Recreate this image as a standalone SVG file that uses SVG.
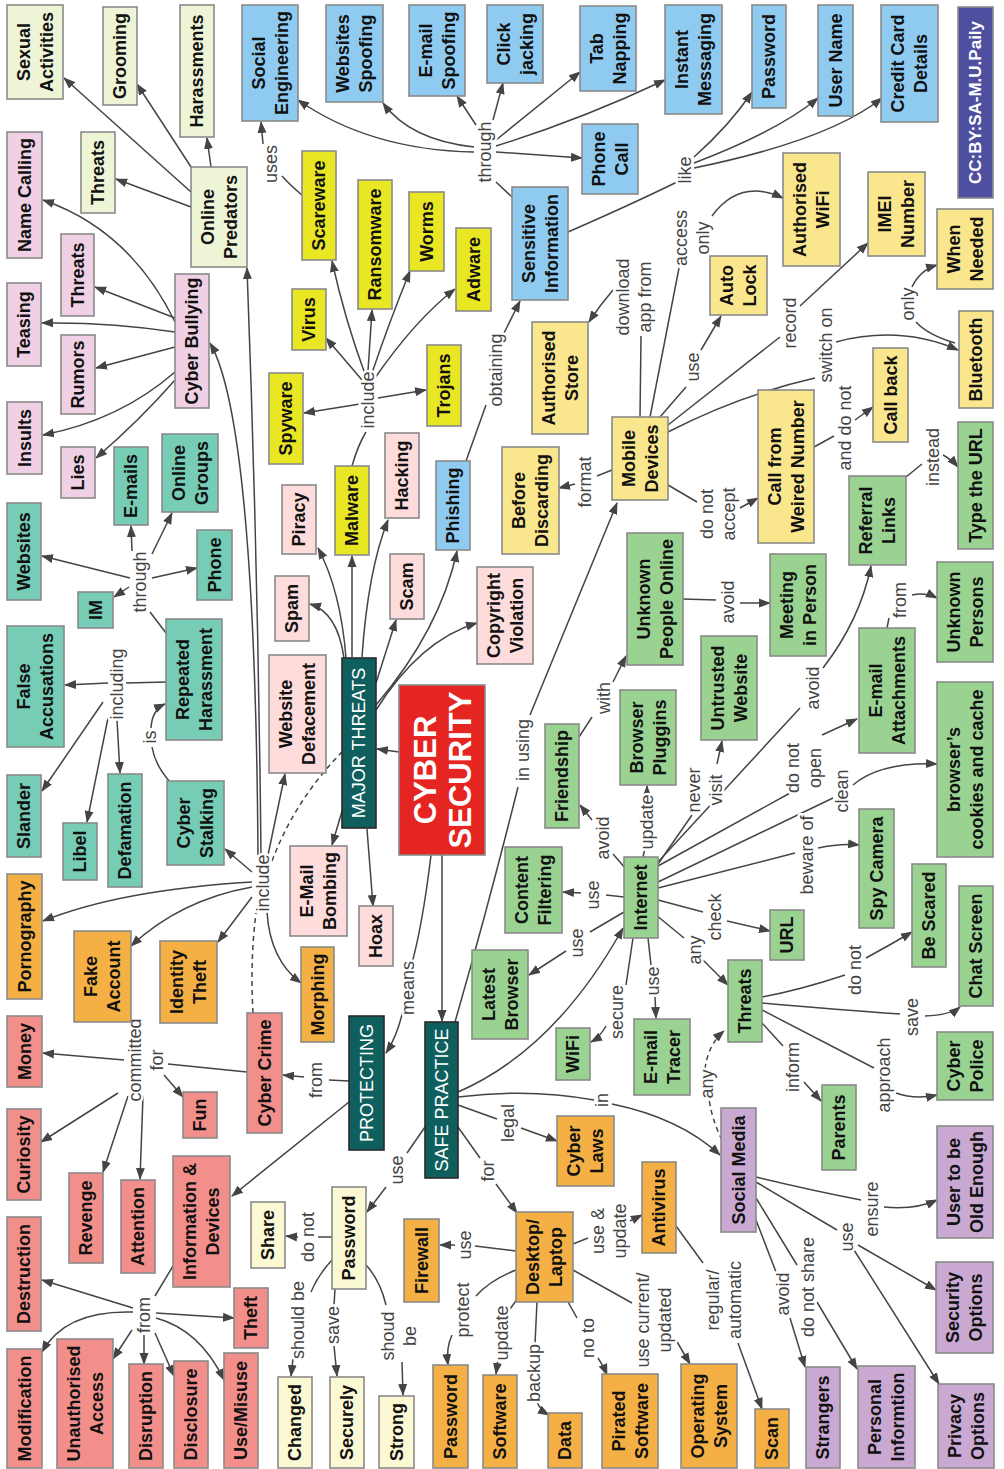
<svg xmlns="http://www.w3.org/2000/svg" width="1004" height="1469" viewBox="0 0 1004 1469">
<defs>
<marker id="ah" viewBox="0 0 12 10" refX="11" refY="5" markerWidth="12" markerHeight="10" markerUnits="userSpaceOnUse" orient="auto"><path d="M0,0.5 L12,5 L0,9.5 z" fill="#444"/></marker>
<style>
rect{stroke:#8a8a8a;stroke-width:1.6}
.og{fill:#EEF5D6}.pk{fill:#F0D0E4}.bl{fill:#8FCBF0}.yl{fill:#E9E623}.lp{fill:#FDDCDB}.tl{fill:#76CCB5}.or{fill:#F4B044}.sa{fill:#F38F8B}.ly{fill:#FBF9D4}.my{fill:#FAE68D}.gr{fill:#99D291}.pu{fill:#C9A9D2}.dk{fill:#0F5F5F;stroke:#2a2a2a}.rd{fill:#E52521}.cc{fill:#4E4F9F}
text{font-family:"Liberation Sans",Arial,sans-serif;text-anchor:middle;dominant-baseline:central}
.t{font-weight:bold;font-size:18px;fill:#111}
.w{font-weight:normal;font-size:18px;fill:#fff}
.l{font-size:18px;fill:#444;stroke:#fff;stroke-width:5px;stroke-linejoin:round;paint-order:stroke}
.c{fill:none;stroke:#444;stroke-width:1.5}
.a{marker-end:url(#ah)}
.d{stroke-dasharray:5,4}
</style>
</defs>
<rect width="1004" height="1469" fill="#fff" style="stroke:none"/>
<g id="connectors">
<path class="c a" d="M399,752 L377,749"/>
<path class="c" d="M431,855 Q422,930 410,970"/>
<path class="c a" d="M404,1006 Q398,1035 386,1053"/>
<path class="c a" d="M442,855 L442,1021"/>
<path class="c a" d="M346,658 C343,620 335,580 318,548"/>
<path class="c a" d="M344,658 C340,630 330,610 310,604"/>
<path class="c a" d="M352,657 L352,556"/>
<path class="c a" d="M362,657 Q368,570 388,520"/>
<path class="c a" d="M376,683 L396,620"/>
<path class="c a" d="M376,705 Q440,630 457,551"/>
<path class="c a" d="M376,710 Q420,640 477,623"/>
<path class="c a" d="M343,808 L332,845"/>
<path class="c a" d="M367,829 L373,906"/>
<path class="c" d="M352,466 Q358,445 366,432"/>
<path class="c a" d="M360,404 L304,413"/>
<path class="c a" d="M362,380 Q345,360 326,338"/>
<path class="c a" d="M365,374 Q345,320 332,261"/>
<path class="c a" d="M368,371 L372,310"/>
<path class="c a" d="M372,373 Q390,320 410,271"/>
<path class="c a" d="M375,378 Q415,320 455,289"/>
<path class="c a" d="M378,398 L426,390"/>
<path class="c" d="M302,195 Q290,185 282,176"/>
<path class="c a" d="M263,144 L261,122"/>
<path class="c" d="M466,461 L486,405"/>
<path class="c a" d="M503,335 L520,301"/>
<path class="c" d="M512,197 L496,182"/>
<path class="c a" d="M474,152 Q370,150 298,100"/>
<path class="c a" d="M474,147 Q410,140 383,103"/>
<path class="c a" d="M476,125 L457,96"/>
<path class="c a" d="M493,120 L503,83"/>
<path class="c a" d="M496,140 L580,72"/>
<path class="c a" d="M496,146 Q580,120 665,80"/>
<path class="c a" d="M496,152 L582,158"/>
<path class="c" d="M568,232 Q630,205 677,182"/>
<path class="c a" d="M694,157 Q730,125 752,92"/>
<path class="c a" d="M694,163 Q780,130 818,98"/>
<path class="c a" d="M694,168 Q830,140 882,98"/>
<path class="c" d="M640,417 L641,336"/>
<path class="c a" d="M613,290 Q600,305 589,322"/>
<path class="c" d="M650,417 Q665,340 679,268"/>
<path class="c a" d="M712,216 Q740,178 783,198"/>
<path class="c" d="M660,417 L686,387"/>
<path class="c a" d="M701,350 L721,316"/>
<path class="c" d="M668,425 L780,337"/>
<path class="c a" d="M800,306 L868,243"/>
<path class="c" d="M668,432 Q740,395 815,378"/>
<path class="c a" d="M836,342 Q900,325 958,350"/>
<path class="c" d="M955,343 Q928,335 916,322"/>
<path class="c a" d="M912,287 Q920,270 937,265"/>
<path class="c" d="M612,470 L597,476"/>
<path class="c a" d="M575,484 L559,488"/>
<path class="c" d="M668,485 Q685,495 697,502"/>
<path class="c a" d="M740,508 L758,498"/>
<path class="c" d="M814,447 L834,436"/>
<path class="c a" d="M855,420 L873,407"/>
<path class="c" d="M906,477 L922,464"/>
<path class="c a" d="M943,455 Q952,460 958,467"/>
<path class="c" d="M683,599 L716,600"/>
<path class="c a" d="M740,603 L770,603"/>
<path class="c" d="M887,628 L889,618"/>
<path class="c a" d="M912,595 Q925,592 937,598"/>
<path class="c" d="M658,862 L800,708"/>
<path class="c a" d="M823,668 Q860,620 871,566"/>
<path class="c" d="M658,866 L790,793"/>
<path class="c a" d="M822,735 L857,719"/>
<path class="c" d="M658,864 L692,815"/>
<path class="c a" d="M717,764 L722,741"/>
<path class="c" d="M658,882 L833,798"/>
<path class="c a" d="M853,785 Q880,762 937,764"/>
<path class="c" d="M658,888 L795,853"/>
<path class="c a" d="M818,848 Q840,843 859,845"/>
<path class="c" d="M658,900 L703,912"/>
<path class="c a" d="M727,921 L770,931"/>
<path class="c" d="M656,915 L684,938"/>
<path class="c a" d="M703,960 L728,985"/>
<path class="c" d="M643,857 L645,848"/>
<path class="c a" d="M647,797 L647,786"/>
<path class="c" d="M626,869 L613,854"/>
<path class="c a" d="M592,820 L580,805"/>
<path class="c" d="M579,737 L592,717"/>
<path class="c a" d="M613,682 L626,656"/>
<path class="c" d="M624,897 L606,895"/>
<path class="c a" d="M581,893 L563,892"/>
<path class="c" d="M624,912 L590,932"/>
<path class="c a" d="M566,951 L529,975"/>
<path class="c" d="M633,938 L626,985"/>
<path class="c a" d="M606,1026 Q600,1037 591,1042"/>
<path class="c" d="M648,938 L651,965"/>
<path class="c a" d="M655,997 L656,1018"/>
<path class="c" d="M455,1022 Q490,900 518,787"/>
<path class="c a" d="M530,715 L617,503"/>
<path class="c a" d="M458,1092 Q555,1050 623,928"/>
<path class="c" d="M458,1097 Q530,1088 594,1100"/>
<path class="c a" d="M612,1104 Q680,1118 720,1155"/>
<path class="c" d="M458,1105 L497,1119"/>
<path class="c a" d="M521,1128 L557,1141"/>
<path class="c" d="M458,1127 L480,1158"/>
<path class="c a" d="M496,1184 L517,1213"/>
<path class="c" d="M425,1127 L407,1153"/>
<path class="c a" d="M386,1187 L367,1212"/>
<path class="c" d="M762,997 Q800,990 845,975"/>
<path class="c a" d="M866,958 Q890,945 912,932"/>
<path class="c" d="M762,1003 Q840,1010 900,1014"/>
<path class="c a" d="M925,1016 Q950,1015 960,1007"/>
<path class="c" d="M762,1010 Q830,1045 874,1068"/>
<path class="c a" d="M896,1093 Q915,1100 937,1095"/>
<path class="c" d="M762,1023 L783,1046"/>
<path class="c a" d="M804,1082 L821,1101"/>
<path class="c d" d="M722,1140 Q712,1120 709,1099"/>
<path class="c d a" d="M705,1069 Q708,1045 724,1031"/>
<path class="c" d="M756,1177 Q810,1190 861,1200"/>
<path class="c a" d="M884,1207 Q915,1210 937,1200"/>
<path class="c" d="M756,1182 L837,1230"/>
<path class="c a" d="M858,1245 L936,1290"/>
<path class="c a" d="M854,1250 L939,1384"/>
<path class="c" d="M756,1198 L797,1265"/>
<path class="c a" d="M817,1302 L857,1369"/>
<path class="c" d="M756,1220 L776,1272"/>
<path class="c a" d="M790,1318 L805,1367"/>
<path class="c" d="M516,1251 L475,1246"/>
<path class="c a" d="M455,1245 L440,1245"/>
<path class="c" d="M573,1244 L588,1238"/>
<path class="c a" d="M630,1221 L642,1215"/>
<path class="c" d="M516,1270 Q490,1280 476,1296"/>
<path class="c a" d="M452,1335 Q446,1348 448,1365"/>
<path class="c" d="M518,1298 L510,1309"/>
<path class="c a" d="M498,1359 L496,1374"/>
<path class="c" d="M537,1302 L535,1344"/>
<path class="c a" d="M537,1402 Q540,1410 549,1415"/>
<path class="c" d="M568,1302 L577,1318"/>
<path class="c a" d="M598,1358 Q603,1365 607,1375"/>
<path class="c" d="M573,1270 L632,1303"/>
<path class="c a" d="M676,1340 L690,1364"/>
<path class="c" d="M676,1226 L703,1263"/>
<path class="c a" d="M738,1343 L762,1409"/>
<path class="c" d="M332,1237 L318,1237"/>
<path class="c a" d="M298,1237 L286,1236"/>
<path class="c" d="M332,1260 Q318,1275 311,1292"/>
<path class="c a" d="M293,1359 L291,1376"/>
<path class="c" d="M335,1289 L334,1305"/>
<path class="c a" d="M334,1346 L337,1376"/>
<path class="c" d="M366,1265 Q380,1280 386,1305"/>
<path class="c a" d="M402,1362 L403,1395"/>
<path class="c" d="M349,1081 L329,1080"/>
<path class="c a" d="M304,1077 L283,1075"/>
<path class="c a" d="M349,1102 L232,1196"/>
<path class="c" d="M247,1072 L168,1064"/>
<path class="c a" d="M124,1060 L43,1053"/>
<path class="c a" d="M118,1093 L41,1142"/>
<path class="c a" d="M128,1096 L103,1172"/>
<path class="c a" d="M143,1096 L140,1179"/>
<path class="c a" d="M164,1075 L183,1097"/>
<path class="c d" d="M253,1013 Q250,960 256,913"/>
<path class="c d" d="M272,861 Q295,800 342,752"/>
<path class="c a" d="M252,872 L225,849"/>
<path class="c a" d="M252,882 Q120,890 43,921"/>
<path class="c a" d="M252,887 Q180,900 131,946"/>
<path class="c a" d="M252,897 L218,942"/>
<path class="c a" d="M267,912 Q270,960 301,983"/>
<path class="c a" d="M268,855 L285,774"/>
<path class="c a" d="M261,855 Q258,560 247,268"/>
<path class="c a" d="M258,855 Q255,420 210,343"/>
<path class="c" d="M170,782 Q155,765 152,747"/>
<path class="c a" d="M151,728 Q152,710 165,704"/>
<path class="c" d="M166,633 L150,612"/>
<path class="c a" d="M130,578 L42,556"/>
<path class="c a" d="M129,587 L114,597"/>
<path class="c a" d="M132,551 L131,526"/>
<path class="c a" d="M152,554 L172,513"/>
<path class="c a" d="M152,578 L197,568"/>
<path class="c" d="M166,682 L126,683"/>
<path class="c a" d="M108,683 L65,685"/>
<path class="c a" d="M103,702 L42,791"/>
<path class="c a" d="M108,718 L87,822"/>
<path class="c a" d="M117,720 L120,773"/>
<path class="c a" d="M175,322 Q130,230 43,200"/>
<path class="c a" d="M175,318 L95,287"/>
<path class="c a" d="M175,332 Q110,322 42,323"/>
<path class="c a" d="M175,347 L96,368"/>
<path class="c a" d="M175,372 Q120,420 43,435"/>
<path class="c a" d="M175,380 Q140,420 96,458"/>
<path class="c a" d="M191,192 L64,78"/>
<path class="c a" d="M193,170 L137,84"/>
<path class="c a" d="M211,167 L207,138"/>
<path class="c a" d="M191,207 L116,179"/>
<path class="c" d="M173,1266 L155,1296"/>
<path class="c a" d="M133,1308 L42,1280"/>
<path class="c a" d="M133,1312 Q65,1310 42,1352"/>
<path class="c a" d="M132,1330 L113,1359"/>
<path class="c a" d="M144,1335 L144,1364"/>
<path class="c a" d="M155,1333 L174,1376"/>
<path class="c a" d="M156,1318 Q200,1330 224,1380"/>
<path class="c a" d="M156,1313 L234,1318"/>
<text class="l" transform="translate(271,164) rotate(-90)">uses</text>
<text class="l" transform="translate(485,152) rotate(-90)">through</text>
<text class="l" transform="translate(685,170) rotate(-90)">like</text>
<text class="l" transform="translate(692,238) rotate(-90)"><tspan x="0" y="-11">access</tspan><tspan x="0" y="11">only</tspan></text>
<text class="l" transform="translate(634,297) rotate(-90)"><tspan x="0" y="-11">download</tspan><tspan x="0" y="11">app from</tspan></text>
<text class="l" transform="translate(496,370) rotate(-90)">obtaining</text>
<text class="l" transform="translate(368,400) rotate(-90)">include</text>
<text class="l" transform="translate(693,367) rotate(-90)">use</text>
<text class="l" transform="translate(790,323) rotate(-90)">record</text>
<text class="l" transform="translate(826,345) rotate(-90)">switch on</text>
<text class="l" transform="translate(908,304) rotate(-90)">only</text>
<text class="l" transform="translate(585,482) rotate(-90)">format</text>
<text class="l" transform="translate(718,514) rotate(-90)"><tspan x="0" y="-11">do not</tspan><tspan x="0" y="11">accept</tspan></text>
<text class="l" transform="translate(845,428) rotate(-90)">and do not</text>
<text class="l" transform="translate(933,457) rotate(-90)">instead</text>
<text class="l" transform="translate(728,602) rotate(-90)">avoid</text>
<text class="l" transform="translate(900,600) rotate(-90)">from</text>
<text class="l" transform="translate(813,688) rotate(-90)">avoid</text>
<text class="l" transform="translate(604,698) rotate(-90)">with</text>
<text class="l" transform="translate(140,582) rotate(-90)">through</text>
<text class="l" transform="translate(117,684) rotate(-90)">including</text>
<text class="l" transform="translate(150,737) rotate(-90)">is</text>
<text class="l" transform="translate(523,750) rotate(-90)">in using</text>
<text class="l" transform="translate(705,790) rotate(-90)"><tspan x="0" y="-11">never</tspan><tspan x="0" y="11">visit</tspan></text>
<text class="l" transform="translate(804,768) rotate(-90)"><tspan x="0" y="-11">do not</tspan><tspan x="0" y="11">open</tspan></text>
<text class="l" transform="translate(842,791) rotate(-90)">clean</text>
<text class="l" transform="translate(807,855) rotate(-90)">beware of</text>
<text class="l" transform="translate(603,838) rotate(-90)">avoid</text>
<text class="l" transform="translate(647,822) rotate(-90)">update</text>
<text class="l" transform="translate(593,895) rotate(-90)">use</text>
<text class="l" transform="translate(577,943) rotate(-90)">use</text>
<text class="l" transform="translate(715,917) rotate(-90)">check</text>
<text class="l" transform="translate(695,950) rotate(-90)">any</text>
<text class="l" transform="translate(263,883) rotate(-90)">include</text>
<text class="l" transform="translate(408,988) rotate(-90)">means</text>
<text class="l" transform="translate(617,1012) rotate(-90)">secure</text>
<text class="l" transform="translate(653,981) rotate(-90)">use</text>
<text class="l" transform="translate(855,970) rotate(-90)">do not</text>
<text class="l" transform="translate(912,1017) rotate(-90)">save</text>
<text class="l" transform="translate(884,1075) rotate(-90)">approach</text>
<text class="l" transform="translate(793,1067) rotate(-90)">inform</text>
<text class="l" transform="translate(707,1084) rotate(-90)">any</text>
<text class="l" transform="translate(146,1060) rotate(-90)"><tspan x="0" y="-11">committed</tspan><tspan x="0" y="11">for</tspan></text>
<text class="l" transform="translate(316,1080) rotate(-90)">from</text>
<text class="l" transform="translate(602,1100) rotate(-90)">in</text>
<text class="l" transform="translate(508,1123) rotate(-90)">legal</text>
<text class="l" transform="translate(397,1170) rotate(-90)">use</text>
<text class="l" transform="translate(488,1171) rotate(-90)">for</text>
<text class="l" transform="translate(872,1209) rotate(-90)">ensure</text>
<text class="l" transform="translate(847,1237) rotate(-90)">use</text>
<text class="l" transform="translate(609,1231) rotate(-90)"><tspan x="0" y="-11">use &amp;</tspan><tspan x="0" y="11">update</tspan></text>
<text class="l" transform="translate(465,1245) rotate(-90)">use</text>
<text class="l" transform="translate(308,1237) rotate(-90)">do not</text>
<text class="l" transform="translate(724,1300) rotate(-90)"><tspan x="0" y="-11">regular/</tspan><tspan x="0" y="11">automatic</tspan></text>
<text class="l" transform="translate(808,1287) rotate(-90)">do not share</text>
<text class="l" transform="translate(783,1294) rotate(-90)">avoid</text>
<text class="l" transform="translate(463,1310) rotate(-90)">protect</text>
<text class="l" transform="translate(502,1333) rotate(-90)">update</text>
<text class="l" transform="translate(588,1338) rotate(-90)">no to</text>
<text class="l" transform="translate(654,1320) rotate(-90)"><tspan x="0" y="-11">use current/</tspan><tspan x="0" y="11">updated</tspan></text>
<text class="l" transform="translate(534,1373) rotate(-90)">backup</text>
<text class="l" transform="translate(333,1325) rotate(-90)">save</text>
<text class="l" transform="translate(399,1336) rotate(-90)"><tspan x="0" y="-11">shoud</tspan><tspan x="0" y="11">be</tspan></text>
<text class="l" transform="translate(298,1320) rotate(-90)">should be</text>
<text class="l" transform="translate(144,1315) rotate(-90)">from</text>
</g>
<g id="sexual"><rect class="og" x="7" y="5" width="56" height="94"/><text class="t" transform="translate(35,52) rotate(-90)"><tspan x="0" y="-11.5">Sexual</tspan><tspan x="0" y="11.5">Activities</tspan></text></g>
<g id="grooming"><rect class="og" x="103" y="7" width="34" height="98"/><text class="t" transform="translate(120,56) rotate(-90)">Grooming</text></g>
<g id="harassments"><rect class="og" x="180" y="5" width="34" height="132"/><text class="t" transform="translate(197,71) rotate(-90)">Harassments</text></g>
<g id="soceng"><rect class="bl" x="242" y="5" width="56" height="116"/><text class="t" transform="translate(270,63) rotate(-90)"><tspan x="0" y="-11.5">Social</tspan><tspan x="0" y="11.5">Engineering</tspan></text></g>
<g id="webspoof"><rect class="bl" x="326" y="5" width="57" height="97"/><text class="t" transform="translate(354.5,53.5) rotate(-90)"><tspan x="0" y="-11.5">Websites</tspan><tspan x="0" y="11.5">Spoofing</tspan></text></g>
<g id="emailspoof"><rect class="bl" x="409" y="5" width="56" height="91"/><text class="t" transform="translate(437,50.5) rotate(-90)"><tspan x="0" y="-11.5">E-mail</tspan><tspan x="0" y="11.5">Spoofing</tspan></text></g>
<g id="clickjacking"><rect class="bl" x="487" y="5" width="56" height="78"/><text class="t" transform="translate(515,44) rotate(-90)"><tspan x="0" y="-11.5">Click</tspan><tspan x="0" y="11.5">jacking</tspan></text></g>
<g id="tabnapping"><rect class="bl" x="580" y="6" width="56" height="85"/><text class="t" transform="translate(608,48.5) rotate(-90)"><tspan x="0" y="-11.5">Tab</tspan><tspan x="0" y="11.5">Napping</tspan></text></g>
<g id="instmsg"><rect class="bl" x="665" y="5" width="57" height="109"/><text class="t" transform="translate(693.5,59.5) rotate(-90)"><tspan x="0" y="-11.5">Instant</tspan><tspan x="0" y="11.5">Messaging</tspan></text></g>
<g id="pwblue"><rect class="bl" x="752" y="5" width="34" height="103"/><text class="t" transform="translate(769,56.5) rotate(-90)">Password</text></g>
<g id="username"><rect class="bl" x="818" y="5" width="35" height="111"/><text class="t" transform="translate(835.5,60.5) rotate(-90)">User Name</text></g>
<g id="ccard"><rect class="bl" x="881" y="5" width="57" height="117"/><text class="t" transform="translate(909.5,63.5) rotate(-90)"><tspan x="0" y="-11.5">Credit Card</tspan><tspan x="0" y="11.5">Details</tspan></text></g>
<g id="license"><rect class="cc" x="958" y="7" width="35" height="191"/><text class="t" style="fill:#fff;font-size:17px" transform="translate(975.5,102.5) rotate(-90)">CC:BY:SA-M.U.Paily</text></g>
<g id="namecall"><rect class="pk" x="7" y="132" width="35" height="126"/><text class="t" transform="translate(24.5,195) rotate(-90)">Name Calling</text></g>
<g id="threatsog"><rect class="og" x="81" y="132" width="34" height="81"/><text class="t" transform="translate(98,172.5) rotate(-90)">Threats</text></g>
<g id="onlinepred"><rect class="og" x="191" y="167" width="56" height="100"/><text class="t" transform="translate(219,217) rotate(-90)"><tspan x="0" y="-11.5">Online</tspan><tspan x="0" y="11.5">Predators</tspan></text></g>
<g id="scareware"><rect class="yl" x="302" y="151" width="34" height="109"/><text class="t" transform="translate(319,205.5) rotate(-90)">Scareware</text></g>
<g id="phonecall"><rect class="bl" x="582" y="124" width="56" height="70"/><text class="t" transform="translate(610,159) rotate(-90)"><tspan x="0" y="-11.5">Phone</tspan><tspan x="0" y="11.5">Call</tspan></text></g>
<g id="sensinfo"><rect class="bl" x="512" y="187" width="56" height="113"/><text class="t" transform="translate(540,243.5) rotate(-90)"><tspan x="0" y="-11.5">Sensitive</tspan><tspan x="0" y="11.5">Information</tspan></text></g>
<g id="ransomware"><rect class="yl" x="358" y="180" width="34" height="129"/><text class="t" transform="translate(375,244.5) rotate(-90)">Ransomware</text></g>
<g id="worms"><rect class="yl" x="409" y="192" width="35" height="79"/><text class="t" transform="translate(426.5,231.5) rotate(-90)">Worms</text></g>
<g id="adware"><rect class="yl" x="456" y="228" width="35" height="83"/><text class="t" transform="translate(473.5,269.5) rotate(-90)">Adware</text></g>
<g id="authwifi"><rect class="my" x="783" y="153" width="57" height="113"/><text class="t" transform="translate(811.5,209.5) rotate(-90)"><tspan x="0" y="-11.5">Authorised</tspan><tspan x="0" y="11.5">WiFi</tspan></text></g>
<g id="imei"><rect class="my" x="868" y="172" width="57" height="84"/><text class="t" transform="translate(896.5,214) rotate(-90)"><tspan x="0" y="-11.5">IMEI</tspan><tspan x="0" y="11.5">Number</tspan></text></g>
<g id="whenneeded"><rect class="my" x="937" y="209" width="56" height="80"/><text class="t" transform="translate(965,249) rotate(-90)"><tspan x="0" y="-11.5">When</tspan><tspan x="0" y="11.5">Needed</tspan></text></g>
<g id="autolock"><rect class="my" x="710" y="256" width="57" height="59"/><text class="t" transform="translate(738.5,285.5) rotate(-90)"><tspan x="0" y="-11.5">Auto</tspan><tspan x="0" y="11.5">Lock</tspan></text></g>
<g id="bluetooth"><rect class="my" x="959" y="311" width="34" height="97"/><text class="t" transform="translate(976,359.5) rotate(-90)">Bluetooth</text></g>
<g id="threatspk"><rect class="pk" x="61" y="234" width="33" height="82"/><text class="t" transform="translate(77.5,275) rotate(-90)">Threats</text></g>
<g id="teasing"><rect class="pk" x="7" y="283" width="34" height="83"/><text class="t" transform="translate(24,324.5) rotate(-90)">Teasing</text></g>
<g id="cyberbully"><rect class="pk" x="175" y="274" width="34" height="134"/><text class="t" transform="translate(192,341) rotate(-90)">Cyber Bullying</text></g>
<g id="virus"><rect class="yl" x="292" y="289" width="34" height="61"/><text class="t" transform="translate(309,319.5) rotate(-90)">Virus</text></g>
<g id="rumors"><rect class="pk" x="61" y="335" width="34" height="79"/><text class="t" transform="translate(78,374.5) rotate(-90)">Rumors</text></g>
<g id="authstore"><rect class="my" x="532" y="322" width="56" height="112"/><text class="t" transform="translate(560,378) rotate(-90)"><tspan x="0" y="-11.5">Authorised</tspan><tspan x="0" y="11.5">Store</tspan></text></g>
<g id="trojans"><rect class="yl" x="427" y="345" width="34" height="81"/><text class="t" transform="translate(444,385.5) rotate(-90)">Trojans</text></g>
<g id="spyware"><rect class="yl" x="269" y="373" width="34" height="91"/><text class="t" transform="translate(286,418.5) rotate(-90)">Spyware</text></g>
<g id="insults"><rect class="pk" x="7" y="402" width="35" height="72"/><text class="t" transform="translate(24.5,438) rotate(-90)">Insults</text></g>
<g id="lies"><rect class="pk" x="61" y="447" width="34" height="51"/><text class="t" transform="translate(78,472.5) rotate(-90)">Lies</text></g>
<g id="emails"><rect class="tl" x="114" y="447" width="34" height="78"/><text class="t" transform="translate(131,486) rotate(-90)">E-mails</text></g>
<g id="onlinegroups"><rect class="tl" x="162" y="434" width="56" height="78"/><text class="t" transform="translate(190,473) rotate(-90)"><tspan x="0" y="-11.5">Online</tspan><tspan x="0" y="11.5">Groups</tspan></text></g>
<g id="websites"><rect class="tl" x="7" y="503" width="34" height="97"/><text class="t" transform="translate(24,551.5) rotate(-90)">Websites</text></g>
<g id="phone"><rect class="tl" x="197" y="530" width="35" height="70"/><text class="t" transform="translate(214.5,565) rotate(-90)">Phone</text></g>
<g id="im"><rect class="tl" x="78" y="592" width="35" height="36"/><text class="t" transform="translate(95.5,610) rotate(-90)">IM</text></g>
<g id="falseacc"><rect class="tl" x="7" y="626" width="57" height="121"/><text class="t" transform="translate(35.5,686.5) rotate(-90)"><tspan x="0" y="-11.5">False</tspan><tspan x="0" y="11.5">Accusations</tspan></text></g>
<g id="repharass"><rect class="tl" x="166" y="619" width="56" height="121"/><text class="t" transform="translate(194,679.5) rotate(-90)"><tspan x="0" y="-11.5">Repeated</tspan><tspan x="0" y="11.5">Harassment</tspan></text></g>
<g id="piracy"><rect class="lp" x="282" y="485" width="34" height="69"/><text class="t" transform="translate(299,519.5) rotate(-90)">Piracy</text></g>
<g id="spam"><rect class="lp" x="275" y="576" width="34" height="65"/><text class="t" transform="translate(292,608.5) rotate(-90)">Spam</text></g>
<g id="webdeface"><rect class="lp" x="269" y="655" width="57" height="118"/><text class="t" transform="translate(297.5,714) rotate(-90)"><tspan x="0" y="-11.5">Website</tspan><tspan x="0" y="11.5">Defacement</tspan></text></g>
<g id="malware"><rect class="yl" x="335" y="466" width="34" height="89"/><text class="t" transform="translate(352,510.5) rotate(-90)">Malware</text></g>
<g id="hacking"><rect class="lp" x="385" y="433" width="34" height="85"/><text class="t" transform="translate(402,475.5) rotate(-90)">Hacking</text></g>
<g id="phishing"><rect class="bl" x="436" y="461" width="34" height="89"/><text class="t" transform="translate(453,505.5) rotate(-90)">Phishing</text></g>
<g id="scam"><rect class="lp" x="390" y="554" width="34" height="65"/><text class="t" transform="translate(407,586.5) rotate(-90)">Scam</text></g>
<g id="copyright"><rect class="lp" x="477" y="567" width="56" height="97"/><text class="t" transform="translate(505,615.5) rotate(-90)"><tspan x="0" y="-11.5">Copyright</tspan><tspan x="0" y="11.5">Violation</tspan></text></g>
<g id="beforedisc"><rect class="my" x="502" y="447" width="57" height="107"/><text class="t" transform="translate(530.5,500.5) rotate(-90)"><tspan x="0" y="-11.5">Before</tspan><tspan x="0" y="11.5">Discarding</tspan></text></g>
<g id="mobile"><rect class="my" x="612" y="417" width="56" height="83"/><text class="t" transform="translate(640,458.5) rotate(-90)"><tspan x="0" y="-11.5">Mobile</tspan><tspan x="0" y="11.5">Devices</tspan></text></g>
<g id="callweird"><rect class="my" x="758" y="390" width="56" height="153"/><text class="t" transform="translate(786,466.5) rotate(-90)"><tspan x="0" y="-11.5">Call from</tspan><tspan x="0" y="11.5">Weired Number</tspan></text></g>
<g id="callback"><rect class="my" x="873" y="348" width="35" height="94"/><text class="t" transform="translate(890.5,395) rotate(-90)">Call back</text></g>
<g id="typeurl"><rect class="gr" x="958" y="422" width="35" height="127"/><text class="t" transform="translate(975.5,485.5) rotate(-90)">Type the URL</text></g>
<g id="referral"><rect class="gr" x="849" y="476" width="57" height="89"/><text class="t" transform="translate(877.5,520.5) rotate(-90)"><tspan x="0" y="-11.5">Referral</tspan><tspan x="0" y="11.5">Links</tspan></text></g>
<g id="unkpeople"><rect class="gr" x="627" y="533" width="56" height="132"/><text class="t" transform="translate(655,599) rotate(-90)"><tspan x="0" y="-11.5">Unknown</tspan><tspan x="0" y="11.5">People Online</tspan></text></g>
<g id="meeting"><rect class="gr" x="770" y="554" width="56" height="102"/><text class="t" transform="translate(798,605) rotate(-90)"><tspan x="0" y="-11.5">Meeting</tspan><tspan x="0" y="11.5">in Person</tspan></text></g>
<g id="unkpersons"><rect class="gr" x="937" y="562" width="56" height="100"/><text class="t" transform="translate(965,612) rotate(-90)"><tspan x="0" y="-11.5">Unknown</tspan><tspan x="0" y="11.5">Persons</tspan></text></g>
<g id="untrusted"><rect class="gr" x="701" y="636" width="56" height="104"/><text class="t" transform="translate(729,688) rotate(-90)"><tspan x="0" y="-11.5">Untrusted</tspan><tspan x="0" y="11.5">Website</tspan></text></g>
<g id="emailatt"><rect class="gr" x="859" y="628" width="56" height="125"/><text class="t" transform="translate(887,690.5) rotate(-90)"><tspan x="0" y="-11.5">E-mail</tspan><tspan x="0" y="11.5">Attachments</tspan></text></g>
<g id="cookies"><rect class="gr" x="937" y="682" width="56" height="175"/><text class="t" transform="translate(965,769.5) rotate(-90)"><tspan x="0" y="-11.5">browser’s</tspan><tspan x="0" y="11.5">cookies and cache</tspan></text></g>
<g id="browserplug"><rect class="gr" x="620" y="690" width="56" height="95"/><text class="t" transform="translate(648,737.5) rotate(-90)"><tspan x="0" y="-11.5">Browser</tspan><tspan x="0" y="11.5">Pluggins</tspan></text></g>
<g id="majorthreats"><rect class="dk" x="342" y="658" width="34" height="170"/><text class="w" transform="translate(359,743) rotate(-90)">MAJOR THREATS</text></g>
<g id="cybersec"><rect class="rd" x="399" y="685" width="86" height="170"/><text class="w" style="font-size:31px;font-weight:bold" transform="translate(442,770) rotate(-90)"><tspan x="0" y="-17.5">CYBER</tspan><tspan x="0" y="17.5">SECURITY</tspan></text></g>
<g id="friendship"><rect class="gr" x="545" y="724" width="34" height="104"/><text class="t" transform="translate(562,776) rotate(-90)">Friendship</text></g>
<g id="slander"><rect class="tl" x="7" y="775" width="34" height="82"/><text class="t" transform="translate(24,816) rotate(-90)">Slander</text></g>
<g id="libel"><rect class="tl" x="63" y="823" width="34" height="57"/><text class="t" transform="translate(80,851.5) rotate(-90)">Libel</text></g>
<g id="defamation"><rect class="tl" x="108" y="774" width="34" height="113"/><text class="t" transform="translate(125,830.5) rotate(-90)">Defamation</text></g>
<g id="cyberstalk"><rect class="tl" x="167" y="781" width="57" height="84"/><text class="t" transform="translate(195.5,823) rotate(-90)"><tspan x="0" y="-11.5">Cyber</tspan><tspan x="0" y="11.5">Stalking</tspan></text></g>
<g id="emailbomb"><rect class="lp" x="290" y="846" width="57" height="90"/><text class="t" transform="translate(318.5,891) rotate(-90)"><tspan x="0" y="-11.5">E-Mail</tspan><tspan x="0" y="11.5">Bombing</tspan></text></g>
<g id="hoax"><rect class="lp" x="359" y="906" width="34" height="60"/><text class="t" transform="translate(376,936) rotate(-90)">Hoax</text></g>
<g id="contentfilt"><rect class="gr" x="505" y="847" width="57" height="86"/><text class="t" transform="translate(533.5,890) rotate(-90)"><tspan x="0" y="-11.5">Content</tspan><tspan x="0" y="11.5">Filtering</tspan></text></g>
<g id="internet"><rect class="gr" x="624" y="857" width="34" height="81"/><text class="t" transform="translate(641,897.5) rotate(-90)">Internet</text></g>
<g id="url"><rect class="gr" x="770" y="910" width="34" height="50"/><text class="t" transform="translate(787,935) rotate(-90)">URL</text></g>
<g id="spycam"><rect class="gr" x="859" y="809" width="35" height="119"/><text class="t" transform="translate(876.5,868.5) rotate(-90)">Spy Camera</text></g>
<g id="bescared"><rect class="gr" x="912" y="864" width="34" height="103"/><text class="t" transform="translate(929,915.5) rotate(-90)">Be Scared</text></g>
<g id="chatscreen"><rect class="gr" x="959" y="886" width="34" height="120"/><text class="t" transform="translate(976,946) rotate(-90)">Chat Screen</text></g>
<g id="porn"><rect class="or" x="7" y="874" width="35" height="125"/><text class="t" transform="translate(24.5,936.5) rotate(-90)">Pornography</text></g>
<g id="fakeacc"><rect class="or" x="74" y="931" width="57" height="91"/><text class="t" transform="translate(102.5,976.5) rotate(-90)"><tspan x="0" y="-11.5">Fake</tspan><tspan x="0" y="11.5">Account</tspan></text></g>
<g id="idtheft"><rect class="or" x="160" y="941" width="57" height="82"/><text class="t" transform="translate(188.5,982) rotate(-90)"><tspan x="0" y="-11.5">Identity</tspan><tspan x="0" y="11.5">Theft</tspan></text></g>
<g id="morphing"><rect class="or" x="301" y="947" width="33" height="95"/><text class="t" transform="translate(317.5,994.5) rotate(-90)">Morphing</text></g>
<g id="latestbrowser"><rect class="gr" x="472" y="950" width="56" height="89"/><text class="t" transform="translate(500,994.5) rotate(-90)"><tspan x="0" y="-11.5">Latest</tspan><tspan x="0" y="11.5">Browser</tspan></text></g>
<g id="threatsgr"><rect class="gr" x="728" y="960" width="34" height="82"/><text class="t" transform="translate(745,1001) rotate(-90)">Threats</text></g>
<g id="money"><rect class="sa" x="7" y="1016" width="35" height="71"/><text class="t" transform="translate(24.5,1051.5) rotate(-90)">Money</text></g>
<g id="cybercrime"><rect class="sa" x="247" y="1013" width="35" height="120"/><text class="t" transform="translate(264.5,1073) rotate(-90)">Cyber Crime</text></g>
<g id="protecting"><rect class="dk" x="349" y="1016" width="35" height="134"/><text class="w" transform="translate(366.5,1083) rotate(-90)">PROTECTING</text></g>
<g id="safepractice"><rect class="dk" x="425" y="1022" width="33" height="156"/><text class="w" transform="translate(441.5,1100) rotate(-90)">SAFE PRACTICE</text></g>
<g id="wifi"><rect class="gr" x="556" y="1028" width="34" height="52"/><text class="t" transform="translate(573,1054) rotate(-90)">WiFi</text></g>
<g id="emailtracer"><rect class="gr" x="634" y="1019" width="56" height="76"/><text class="t" transform="translate(662,1057) rotate(-90)"><tspan x="0" y="-11.5">E-mail</tspan><tspan x="0" y="11.5">Tracer</tspan></text></g>
<g id="cyberpolice"><rect class="gr" x="937" y="1032" width="56" height="68"/><text class="t" transform="translate(965,1066) rotate(-90)"><tspan x="0" y="-11.5">Cyber</tspan><tspan x="0" y="11.5">Police</tspan></text></g>
<g id="parents"><rect class="gr" x="822" y="1085" width="34" height="85"/><text class="t" transform="translate(839,1127.5) rotate(-90)">Parents</text></g>
<g id="fun"><rect class="sa" x="183" y="1092" width="34" height="46"/><text class="t" transform="translate(200,1115) rotate(-90)">Fun</text></g>
<g id="curiosity"><rect class="sa" x="7" y="1109" width="34" height="91"/><text class="t" transform="translate(24,1154.5) rotate(-90)">Curiosity</text></g>
<g id="socialmedia"><rect class="pu" x="721" y="1108" width="35" height="124"/><text class="t" transform="translate(738.5,1170) rotate(-90)">Social Media</text></g>
<g id="userold"><rect class="pu" x="937" y="1126" width="56" height="112"/><text class="t" transform="translate(965,1182) rotate(-90)"><tspan x="0" y="-11.5">User to be</tspan><tspan x="0" y="11.5">Old Enough</tspan></text></g>
<g id="cyberlaws"><rect class="or" x="557" y="1116" width="57" height="70"/><text class="t" transform="translate(585.5,1151) rotate(-90)"><tspan x="0" y="-11.5">Cyber</tspan><tspan x="0" y="11.5">Laws</tspan></text></g>
<g id="antivirus"><rect class="or" x="642" y="1162" width="34" height="91"/><text class="t" transform="translate(659,1207.5) rotate(-90)">Antivirus</text></g>
<g id="revenge"><rect class="sa" x="69" y="1173" width="34" height="90"/><text class="t" transform="translate(86,1218) rotate(-90)">Revenge</text></g>
<g id="attention"><rect class="sa" x="121" y="1180" width="34" height="93"/><text class="t" transform="translate(138,1226.5) rotate(-90)">Attention</text></g>
<g id="infodev"><rect class="sa" x="173" y="1156" width="57" height="131"/><text class="t" transform="translate(201.5,1221.5) rotate(-90)"><tspan x="0" y="-11.5">Information &amp;</tspan><tspan x="0" y="11.5">Devices</tspan></text></g>
<g id="share"><rect class="ly" x="251" y="1202" width="34" height="66"/><text class="t" transform="translate(268,1235) rotate(-90)">Share</text></g>
<g id="passwordly"><rect class="ly" x="332" y="1187" width="34" height="102"/><text class="t" transform="translate(349,1238) rotate(-90)">Password</text></g>
<g id="firewall"><rect class="or" x="404" y="1219" width="35" height="83"/><text class="t" transform="translate(421.5,1260.5) rotate(-90)">Firewall</text></g>
<g id="desktop"><rect class="or" x="516" y="1212" width="57" height="90"/><text class="t" transform="translate(544.5,1257) rotate(-90)"><tspan x="0" y="-11.5">Desktop/</tspan><tspan x="0" y="11.5">Laptop</tspan></text></g>
<g id="destruction"><rect class="sa" x="7" y="1217" width="34" height="114"/><text class="t" transform="translate(24,1274) rotate(-90)">Destruction</text></g>
<g id="theft"><rect class="sa" x="234" y="1288" width="34" height="60"/><text class="t" transform="translate(251,1318) rotate(-90)">Theft</text></g>
<g id="secopts"><rect class="pu" x="936" y="1262" width="57" height="91"/><text class="t" transform="translate(964.5,1307.5) rotate(-90)"><tspan x="0" y="-11.5">Security</tspan><tspan x="0" y="11.5">Options</tspan></text></g>
<g id="modification"><rect class="sa" x="7" y="1349" width="35" height="119"/><text class="t" transform="translate(24.5,1408.5) rotate(-90)">Modification</text></g>
<g id="unauth"><rect class="sa" x="57" y="1339" width="56" height="129"/><text class="t" transform="translate(85,1403.5) rotate(-90)"><tspan x="0" y="-11.5">Unauthorised</tspan><tspan x="0" y="11.5">Access</tspan></text></g>
<g id="disruption"><rect class="sa" x="129" y="1364" width="34" height="104"/><text class="t" transform="translate(146,1416) rotate(-90)">Disruption</text></g>
<g id="disclosure"><rect class="sa" x="174" y="1361" width="34" height="107"/><text class="t" transform="translate(191,1414.5) rotate(-90)">Disclosure</text></g>
<g id="usemisuse"><rect class="sa" x="224" y="1353" width="34" height="115"/><text class="t" transform="translate(241,1410.5) rotate(-90)">Use/Misuse</text></g>
<g id="changed"><rect class="ly" x="278" y="1377" width="34" height="91"/><text class="t" transform="translate(295,1422.5) rotate(-90)">Changed</text></g>
<g id="securely"><rect class="ly" x="330" y="1377" width="34" height="91"/><text class="t" transform="translate(347,1422.5) rotate(-90)">Securely</text></g>
<g id="strong"><rect class="ly" x="379" y="1396" width="35" height="72"/><text class="t" transform="translate(396.5,1432) rotate(-90)">Strong</text></g>
<g id="passwordor"><rect class="or" x="433" y="1365" width="35" height="103"/><text class="t" transform="translate(450.5,1416.5) rotate(-90)">Password</text></g>
<g id="software"><rect class="or" x="483" y="1375" width="34" height="93"/><text class="t" transform="translate(500,1421.5) rotate(-90)">Software</text></g>
<g id="data"><rect class="or" x="548" y="1413" width="34" height="55"/><text class="t" transform="translate(565,1440.5) rotate(-90)">Data</text></g>
<g id="pirated"><rect class="or" x="602" y="1374" width="56" height="94"/><text class="t" transform="translate(630,1421) rotate(-90)"><tspan x="0" y="-11.5">Pirated</tspan><tspan x="0" y="11.5">Software</tspan></text></g>
<g id="opsys"><rect class="or" x="681" y="1364" width="56" height="104"/><text class="t" transform="translate(709,1416) rotate(-90)"><tspan x="0" y="-11.5">Operating</tspan><tspan x="0" y="11.5">System</tspan></text></g>
<g id="scan"><rect class="or" x="755" y="1409" width="34" height="59"/><text class="t" transform="translate(772,1438.5) rotate(-90)">Scan</text></g>
<g id="strangers"><rect class="pu" x="806" y="1367" width="34" height="101"/><text class="t" transform="translate(823,1417.5) rotate(-90)">Strangers</text></g>
<g id="personal"><rect class="pu" x="858" y="1366" width="57" height="102"/><text class="t" transform="translate(886.5,1417) rotate(-90)"><tspan x="0" y="-11.5">Personal</tspan><tspan x="0" y="11.5">Informtion</tspan></text></g>
<g id="privacy"><rect class="pu" x="938" y="1384" width="56" height="84"/><text class="t" transform="translate(966,1426) rotate(-90)"><tspan x="0" y="-11.5">Privacy</tspan><tspan x="0" y="11.5">Options</tspan></text></g>
</svg>
